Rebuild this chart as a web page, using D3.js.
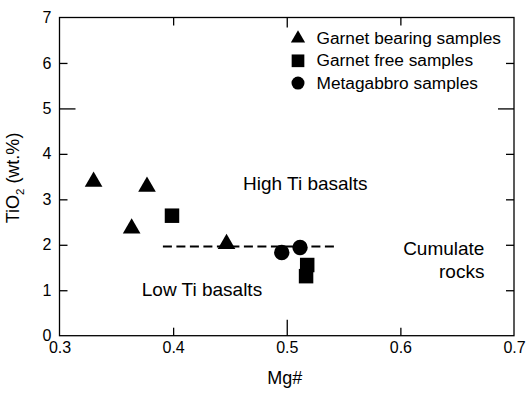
<!DOCTYPE html>
<html>
<head>
<meta charset="utf-8">
<script src="https://cdn.jsdelivr.net/npm/d3@7"></script>
<style>
  html, body { margin: 0; padding: 0; background: #fff; }
  svg text { font-family: "Liberation Sans", Arial, sans-serif; fill: #000; }
</style>
</head>
<body>
<svg id="chart" width="526" height="394"></svg>
<script>
// ---- data ----
const garnetBearingX = [0.330, 0.377, 0.3635, 0.447];
const garnetBearingY = [3.39, 3.28, 2.36, 2.02];
const garnetFreeX = [0.399, 0.518, 0.517];
const garnetFreeY = [2.64, 1.555, 1.31];
const metagabbroX = [0.4956, 0.5117];
const metagabbroY = [1.83, 1.94];
const boundaryX = [0.391, 0.545];
const boundaryY = [1.96, 1.96];
const xTicks = [0.3, 0.4, 0.5, 0.6, 0.7];
const yTicks = [0, 1, 2, 3, 4, 5, 6, 7];
const legendLabels = ["Garnet bearing samples", "Garnet free samples", "Metagabbro samples"];
const fieldLabels = ["High Ti basalts", "Low Ti basalts", "Cumulate", "rocks"];
const fieldX = [0.4615, 0.3724, 0.674, 0.674];
const fieldY = [3.2, 0.88, 1.78, 1.27];

// ---- layout ----
const svg = d3.select("#chart");
const L = 59.5, R = 514, T = 17.5, B = 335.7;
const x = d3.scaleLinear().domain([0.3, 0.7]).range([L, R]);
const y = d3.scaleLinear().domain([0, 7]).range([B, T]);

const fmtX = d3.format(".1f");

const gB = svg.append("g").attr("transform", `translate(0,${B})`)
  .call(d3.axisBottom(x).tickValues(xTicks).tickSizeInner(-8).tickSizeOuter(0).tickPadding(6).tickFormat(fmtX));
const gL = svg.append("g").attr("transform", `translate(${L},0)`)
  .call(d3.axisLeft(y).tickValues(yTicks).tickSizeInner(-8).tickSizeOuter(0).tickPadding(8).tickFormat(d3.format("d")));
const gT = svg.append("g").attr("transform", `translate(0,${T})`)
  .call(d3.axisTop(x).tickValues(xTicks.slice(1, -1)).tickSizeInner(-8).tickSizeOuter(0).tickFormat(""));
const gR = svg.append("g").attr("transform", `translate(${R},0)`)
  .call(d3.axisRight(y).tickValues(yTicks.slice(1, -1)).tickSizeInner(-8).tickSizeOuter(0).tickFormat(""));

[gB, gL, gT, gR].forEach(g => {
  g.select(".domain").remove();
  g.selectAll(".tick line").attr("stroke", "#000").attr("stroke-width", 1.3);
  g.selectAll(".tick text").attr("font-size", 16).style("font-family", "'Liberation Sans', Arial, sans-serif");
});
gB.selectAll(".tick").filter(d => d === 0.3 || d === 0.7).select("line").remove();
gL.selectAll(".tick").filter(d => d === 0 || d === 7).select("line").remove();
gB.selectAll(".tick").filter(d => d === 0.5).select("line").attr("y2", -16);
gL.selectAll(".tick").filter(d => d === 5).select("line").attr("x2", 16);
gR.selectAll(".tick").filter(d => d === 5).select("line").attr("x2", -16);
gT.selectAll(".tick").filter(d => d === 0.5).select("line").attr("y2", 10);

// frame
svg.append("rect").attr("x", L).attr("y", T).attr("width", R - L).attr("height", B - T)
  .attr("fill", "none").attr("stroke", "#000").attr("stroke-width", 1.3);

// axis titles
svg.append("text").attr("x", (L + R) / 2 - 2).attr("y", 383.5).attr("text-anchor", "middle")
  .attr("font-size", 18).text("Mg#");
const yl = svg.append("text").attr("transform", `translate(19,178) rotate(-90)`)
  .attr("text-anchor", "middle").attr("font-size", 18);
yl.append("tspan").text("TiO");
yl.append("tspan").attr("font-size", 11.5).attr("dy", 4.5).text("2");
yl.append("tspan").attr("dy", -4.5).text(" (wt.%)");

// boundary line
svg.append("path")
  .datum(boundaryX.map((v, i) => [v, boundaryY[i]]))
  .attr("d", d3.line().x(d => x(d[0])).y(d => y(d[1])))
  .attr("fill", "none").attr("stroke", "#000").attr("stroke-width", 2).attr("stroke-dasharray", "9,4.5");

// markers
const tri = d3.symbol().type(d3.symbolTriangle).size(135);
const sq = d3.symbol().type(d3.symbolSquare).size(210);
const circ = d3.symbol().type(d3.symbolCircle).size(185);

svg.append("g").selectAll("path").data(garnetBearingX.map((v, i) => [v, garnetBearingY[i]]))
  .join("path").attr("d", tri).attr("transform", d => `translate(${x(d[0])},${y(d[1])})`).attr("fill", "#000");
svg.append("g").selectAll("path").data(garnetFreeX.map((v, i) => [v, garnetFreeY[i]]))
  .join("path").attr("d", sq).attr("transform", d => `translate(${x(d[0])},${y(d[1])})`).attr("fill", "#000");
svg.append("g").selectAll("path").data(metagabbroX.map((v, i) => [v, metagabbroY[i]]))
  .join("path").attr("d", circ).attr("transform", d => `translate(${x(d[0])},${y(d[1])})`).attr("fill", "#000");

// field labels
svg.append("g").selectAll("text").data(fieldLabels).join("text")
  .attr("x", (d, i) => x(fieldX[i])).attr("y", (d, i) => y(fieldY[i]))
  .attr("text-anchor", (d, i) => i >= 2 ? "end" : "start")
  .attr("font-size", 19).text(d => d);

// legend
const legendSymbols = [
  d3.symbol().type(d3.symbolTriangle).size(88),
  d3.symbol().type(d3.symbolSquare).size(161),
  d3.symbol().type(d3.symbolCircle).size(133)
];
const lg = svg.append("g");
legendLabels.forEach((lab, i) => {
  const cy = 38.5 + i * 22.3;
  lg.append("path").attr("d", legendSymbols[i]).attr("transform", `translate(298,${cy})`).attr("fill", "#000");
  lg.append("text").attr("x", 316.5).attr("y", cy + 5.5).attr("font-size", 17.3).text(lab);
});
</script>
</body>
</html>
